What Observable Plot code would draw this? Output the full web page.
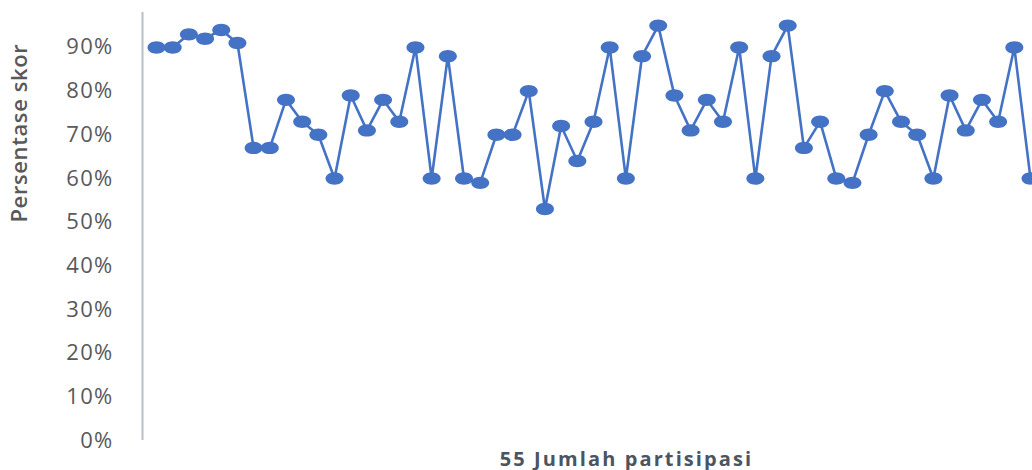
<!DOCTYPE html>
<html>
<head>
<meta charset="utf-8">
<script src="https://cdn.jsdelivr.net/npm/d3@7"></script>
<script src="https://cdn.jsdelivr.net/npm/@observablehq/plot@0.6"></script>
<style>
  html, body { margin: 0; padding: 0; background: #fff; overflow: hidden; }
  #chart { width: 1032px; height: 470px; }
</style>
</head>
<body>
<div id="chart"></div>
<script>
// Participant number (1..55)
const participants = d3.range(1, 56);
// Score percentage per participant (%)
const scores = [
  90, 90, 93, 92, 94, 91, 67, 67, 78, 73,
  70, 60, 79, 71, 78, 73, 90, 60, 88, 60,
  59, 70, 70, 80, 53, 72, 64, 73, 90, 60,
  88, 95, 79, 71, 78, 73, 90, 60, 88, 95,
  67, 73, 60, 59, 70, 80, 73, 70, 60, 79,
  71, 78, 73, 90, 60
];
const yTicks = [0, 0.1, 0.2, 0.3, 0.4, 0.5, 0.6, 0.7, 0.8, 0.9];
const yLabel = "Persentase skor";
const xLabel = "55 Jumlah partisipasi";

const data = participants.map((p, i) => ({participant: p, score: scores[i] / 100}));

const xDomainStart = 0.135;
const blue = "#4472C4";

// ellipse-shaped marker
const ellipseSymbol = {
  draw(ctx) {
    const rx = 9, ry = 6.2, k = 0.5523;
    ctx.moveTo(rx, 0);
    ctx.bezierCurveTo(rx, ry * k, rx * k, ry, 0, ry);
    ctx.bezierCurveTo(-rx * k, ry, -rx, ry * k, -rx, 0);
    ctx.bezierCurveTo(-rx, -ry * k, -rx * k, -ry, 0, -ry);
    ctx.bezierCurveTo(rx * k, -ry, rx, -ry * k, rx, 0);
    ctx.closePath();
  }
};

const chart = Plot.plot({
  width: 1032,
  height: 470,
  marginLeft: 142,
  marginRight: 2,
  marginTop: 12,
  marginBottom: 30,
  style: {
    fontFamily: "'Open Sans', sans-serif",
    fontSize: "22px",
    color: "#595959",
    background: "#ffffff",
    letterSpacing: "1.3px"
  },
  x: {domain: [xDomainStart, 55], axis: null},
  y: {
    domain: [0, 0.98],
    ticks: yTicks,
    tickSize: 0,
    tickPadding: 29,
    tickFormat: d3.format(".0%"),
    label: null
  },
  marks: [
    Plot.ruleX([xDomainStart], {stroke: "#b8bfcc", strokeWidth: 2}),
    Plot.line(data, {x: "participant", y: "score", stroke: blue, strokeWidth: 2.6}),
    Plot.dot(data, {x: "participant", y: "score", symbol: ellipseSymbol, fill: blue, stroke: "none"}),
    Plot.text([yLabel], {
      frameAnchor: "left", rotate: -90, dx: -123, dy: -4, text: d => d,
      fontSize: 22, fontWeight: 600, fill: "#595959",
      fontFamily: "'Open Sans', sans-serif"
    }),
    Plot.text([xLabel], {
      frameAnchor: "bottom", dx: 40, dy: 25, text: d => d,
      fontSize: 20, fontWeight: 700, fill: "#4a5462",
      fontFamily: "'Open Sans', sans-serif"
    })
  ]
});

document.getElementById("chart").appendChild(chart);
d3.select(chart).selectAll("text").filter(function () {
  return this.textContent === yLabel;
}).style("letter-spacing", "0.6px");
d3.select(chart).selectAll("text").filter(function () {
  return this.textContent === xLabel;
}).style("letter-spacing", "2.1px");
</script>
</body>
</html>
